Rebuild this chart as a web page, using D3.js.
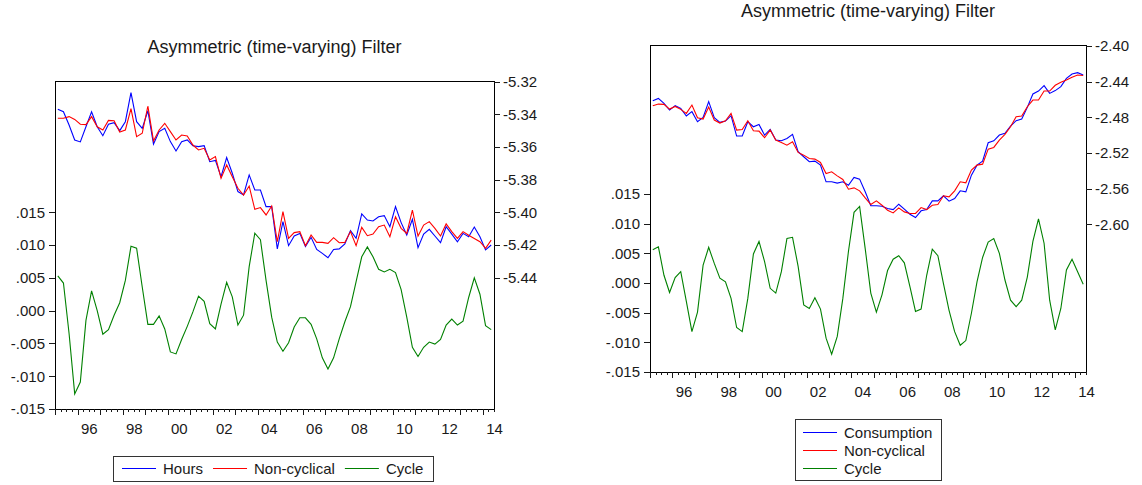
<!DOCTYPE html>
<html>
<head>
<meta charset="utf-8">
<script src="https://cdn.jsdelivr.net/npm/d3@7"></script>
<style>
  body { margin: 0; background: #fff; }
  svg text { font-family: "Liberation Sans", Arial, sans-serif; }
</style>
</head>
<body>
<div id="chart"></div>
<script>

// quarterly sample, 1995Q1 - 2014Q2 (78 obs)
var startYear = 1995;
var yearLabels = ["96", "98", "00", "02", "04", "06", "08", "10", "12", "14"];

var hoursSeries = [
  -5.3369, -5.3384, -5.3465, -5.3557, -5.3569, -5.3476, -5.3384, -5.3476, -5.3531, -5.3461,
  -5.3451, -5.3500, -5.3445, -5.3267, -5.3445, -5.3486, -5.3378, -5.3582, -5.3506, -5.3486,
  -5.3567, -5.3624, -5.3567, -5.3557, -5.3592, -5.3598, -5.3592, -5.3690, -5.3682, -5.3782,
  -5.3665, -5.3761, -5.3873, -5.3894, -5.3771, -5.3863, -5.3863, -5.3965, -5.3965, -5.4224,
  -5.4057, -5.4204, -5.4145, -5.4129, -5.4210, -5.4153, -5.4227, -5.4251, -5.4278, -5.4227,
  -5.4224, -5.4194, -5.4112, -5.4159, -5.4010, -5.4047, -5.4053, -5.4027, -5.4020, -5.4088,
  -5.3965, -5.4063, -5.4139, -5.4043, -5.4216, -5.4133, -5.4104, -5.4145, -5.4186, -5.4088,
  -5.4133, -5.4180, -5.4129, -5.4150, -5.4090, -5.4150, -5.4230, -5.4200
];
var hoursTrend = [
  -5.3424, -5.3424, -5.3414, -5.3431, -5.3461, -5.3463, -5.3414, -5.3476, -5.3496, -5.3437,
  -5.3439, -5.3508, -5.3496, -5.3365, -5.3537, -5.3516, -5.3349, -5.3563, -5.3496, -5.3455,
  -5.3506, -5.3557, -5.3527, -5.3533, -5.3588, -5.3618, -5.3608, -5.3680, -5.3659, -5.3792,
  -5.3710, -5.3782, -5.3853, -5.3894, -5.3839, -5.3982, -5.3971, -5.4016, -5.3961, -5.4180,
  -5.3996, -5.4159, -5.4124, -5.4118, -5.4204, -5.4139, -5.4184, -5.4184, -5.4190, -5.4155,
  -5.4186, -5.4184, -5.4118, -5.4204, -5.4092, -5.4143, -5.4133, -5.4088, -5.4078, -5.4149,
  -5.4027, -5.4098, -5.4129, -5.3986, -5.4145, -5.4078, -5.4057, -5.4098, -5.4145, -5.4071,
  -5.4118, -5.4159, -5.4118, -5.4140, -5.4160, -5.4180, -5.4220, -5.4170
];
var hoursCycle = [
  0.0053, 0.0042, -0.0035, -0.0127, -0.0109, -0.0015, 0.0030, 0.0000, -0.0036, -0.0029,
  -0.0007, 0.0012, 0.0046, 0.0098, 0.0095, 0.0036, -0.0021, -0.0021, -0.0008, -0.0028,
  -0.0063, -0.0066, -0.0044, -0.0024, -0.0002, 0.0022, 0.0014, -0.0020, -0.0028, 0.0010,
  0.0043, 0.0021, -0.0022, -0.0007, 0.0067, 0.0118, 0.0108, 0.0046, -0.0010, -0.0048,
  -0.0062, -0.0049, -0.0025, -0.0011, -0.0011, -0.0021, -0.0043, -0.0072, -0.0089, -0.0072,
  -0.0043, -0.0017, 0.0006, 0.0044, 0.0082, 0.0097, 0.0082, 0.0063, 0.0059, 0.0063,
  0.0058, 0.0032, -0.0010, -0.0056, -0.0070, -0.0056, -0.0048, -0.0051, -0.0044, -0.0022,
  -0.0013, -0.0022, -0.0016, 0.0020, 0.0050, 0.0025, -0.0023, -0.0029
];

var consSeries = [
  -2.4613, -2.4587, -2.4643, -2.4718, -2.4669, -2.4699, -2.4785, -2.4736, -2.4849, -2.4800,
  -2.4624, -2.4804, -2.4856, -2.4841, -2.4781, -2.5009, -2.5009, -2.4849, -2.4905, -2.4879,
  -2.4999, -2.4935, -2.5054, -2.5062, -2.5036, -2.4991, -2.5185, -2.5241, -2.5297, -2.5290,
  -2.5335, -2.5522, -2.5522, -2.5537, -2.5522, -2.5560, -2.5473, -2.5492, -2.5634, -2.5791,
  -2.5791, -2.5795, -2.5821, -2.5833, -2.5773, -2.5829, -2.5885, -2.5922, -2.5847, -2.5833,
  -2.5736, -2.5736, -2.5679, -2.5739, -2.5709, -2.5623, -2.5634, -2.5447, -2.5335, -2.5290,
  -2.5084, -2.5062, -2.4998, -2.4979, -2.4897, -2.4837, -2.4819, -2.4688, -2.4538, -2.4505,
  -2.4445, -2.4531, -2.4500, -2.4456, -2.4363, -2.4314, -2.4299, -2.4325
];
var consTrend = [
  -2.4669, -2.4651, -2.4654, -2.4707, -2.4677, -2.4710, -2.4755, -2.4662, -2.4804, -2.4819,
  -2.4684, -2.4830, -2.4864, -2.4838, -2.4755, -2.4942, -2.4935, -2.4838, -2.4950, -2.4954,
  -2.5028, -2.4942, -2.5054, -2.5081, -2.5111, -2.5073, -2.5193, -2.5223, -2.5260, -2.5268,
  -2.5305, -2.5429, -2.5410, -2.5455, -2.5496, -2.5605, -2.5590, -2.5623, -2.5702, -2.5777,
  -2.5735, -2.5784, -2.5840, -2.5870, -2.5814, -2.5859, -2.5877, -2.5877, -2.5810, -2.5833,
  -2.5784, -2.5777, -2.5679, -2.5691, -2.5623, -2.5522, -2.5533, -2.5391, -2.5335, -2.5324,
  -2.5156, -2.5137, -2.5055, -2.4991, -2.4905, -2.4793, -2.4785, -2.4681, -2.4606, -2.4606,
  -2.4505, -2.4505, -2.4440, -2.4407, -2.4381, -2.4351, -2.4325, -2.4330
];
var consCycle = [
  0.0056, 0.0061, 0.0013, -0.0016, 0.0009, 0.0019, -0.0031, -0.0082, -0.0049, 0.0030,
  0.0060, 0.0033, 0.0008, 0.0002, -0.0026, -0.0075, -0.0082, -0.0026, 0.0049, 0.0070,
  0.0036, -0.0009, -0.0017, 0.0019, 0.0075, 0.0077, 0.0028, -0.0037, -0.0043, -0.0025,
  -0.0044, -0.0093, -0.0120, -0.0090, -0.0026, 0.0053, 0.0119, 0.0129, 0.0058, -0.0017,
  -0.0049, -0.0020, 0.0021, 0.0040, 0.0046, 0.0034, -0.0006, -0.0048, -0.0044, 0.0013,
  0.0057, 0.0046, -0.0001, -0.0046, -0.0082, -0.0105, -0.0097, -0.0051, 0.0002, 0.0043,
  0.0069, 0.0075, 0.0050, 0.0005, -0.0029, -0.0040, -0.0029, 0.0010, 0.0070, 0.0108,
  0.0067, -0.0029, -0.0079, -0.0043, 0.0022, 0.0040, 0.0019, -0.0002
];

var cycleTicks = [-0.015, -0.010, -0.005, 0.000, 0.005, 0.010, 0.015];
var hoursTicks = [-5.44, -5.42, -5.40, -5.38, -5.36, -5.34, -5.32];
var consTicks = [-2.60, -2.56, -2.52, -2.48, -2.44, -2.40];

var legendColors = ["#0000ff", "#ff0000", "#008000"];

// plain hyphen minus like the original, not the unicode one
var locale = d3.formatLocale({decimal: ".", thousands: ",", grouping: [3], currency: ["", ""], minus: "-"});
var fmtCycle = function(d){ return locale.format(".3f")(d).replace("0.", "."); };
var fmtLevel = locale.format(".2f");

var svg = d3.select("#chart").append("svg")
    .attr("width", 1142)
    .attr("height", 485);

FilterPanel = function(_svg, _config){
    this.svg = _svg;
    this.config = _config;
    this.initVis();
}

FilterPanel.prototype.initVis = function(){

  var vis = this;
  var c = vis.config;

  vis.width = c.right - c.left;
  vis.height = c.bottom - c.top;

  vis.g = vis.svg.append("g")
      .attr("transform", "translate(" + c.left + "," + c.top + ")");

  var nObs = c.series[0].length;
  var endYear = startYear + nObs / 4;

  // x in years, each quarter drawn at the middle of its slot
  vis.x = d3.scaleLinear()
      .domain([startYear, endYear])
      .range([0, vis.width]);

  vis.yCycle = d3.scaleLinear()
      .domain(c.cycleDomain)
      .range([vis.height, 0]);

  vis.yLevel = d3.scaleLinear()
      .domain(c.levelDomain)
      .range([vis.height, 0]);

  var quarterTicks = d3.range(0, nObs + 1).map(function(i){ return startYear + i / 4; });
  var yearTicks = quarterTicks.filter(function(t){ return t % 1 === 0; });
  var labelYears = yearLabels.map(function(l){
      var y = +l < 50 ? 2000 + +l : 1900 + +l;
      return y + 0.5;
  });

  // frame
  vis.g.append("rect")
      .attr("width", vis.width)
      .attr("height", vis.height)
      .attr("fill", "none")
      .attr("stroke", "#000")
      .attr("shape-rendering", "crispEdges");

  // axes
  var styleAxis = function(sel){
    sel.attr("font-size", 15)
       .attr("font-family", "'Liberation Sans', Arial, sans-serif")
       .attr("color", "#1a1a1a")
       .attr("shape-rendering", "crispEdges");
    sel.select(".domain").remove();
  }

  vis.g.append("g")
      .call(d3.axisLeft(vis.yCycle).tickValues(cycleTicks).tickFormat(fmtCycle).tickSize(6).tickPadding(4))
      .call(styleAxis);

  vis.g.append("g")
      .attr("transform", "translate(" + vis.width + ",0)")
      .call(d3.axisRight(vis.yLevel).tickValues(c.levelTicks).tickFormat(fmtLevel).tickSize(6).tickPadding(3))
      .call(styleAxis);

  vis.g.append("g")
      .attr("transform", "translate(0," + vis.height + ")")
      .call(d3.axisBottom(vis.x).tickValues(quarterTicks).tickFormat("").tickSize(3))
      .call(styleAxis);

  vis.g.append("g")
      .attr("transform", "translate(0," + vis.height + ")")
      .call(d3.axisBottom(vis.x).tickValues(yearTicks).tickFormat("").tickSize(6))
      .call(styleAxis);

  vis.g.append("g")
      .attr("transform", "translate(0," + vis.height + ")")
      .call(d3.axisBottom(vis.x).tickValues(labelYears)
            .tickFormat(function(d, i){ return yearLabels[i]; }).tickSize(0).tickPadding(14))
      .call(styleAxis);

  // series: level + trend on right scale, cycle on left scale
  var scales = [vis.yLevel, vis.yLevel, vis.yCycle];
  c.series.forEach(function(s, k){
    var line = d3.line()
        .x(function(d, i){ return vis.x(startYear + (i + 0.5) / 4); })
        .y(function(d){ return scales[k](d); });

    vis.g.append("path")
        .datum(s)
        .attr("d", line)
        .attr("fill", "none")
        .attr("stroke", legendColors[k])
        .attr("stroke-width", 1.1);
  })

  // title
  vis.svg.append("text")
      .attr("x", (c.left + c.right) / 2)
      .attr("y", c.top - 28)
      .attr("text-anchor", "middle")
      .attr("font-size", 18)
      .attr("fill", "#1a1a1a")
      .text(c.title);

  vis.drawLegend();
}

FilterPanel.prototype.drawLegend = function(){

  var vis = this;
  var c = vis.config;
  var lg = c.legend;

  var box = vis.svg.append("rect")
      .attr("fill", "#fff")
      .attr("stroke", "#333")
      .attr("shape-rendering", "crispEdges");

  var items = vis.svg.append("g");
  var xPos = lg.x + 9;

  c.names.forEach(function(name, k){
    var rowY = lg.horizontal ? lg.y + lg.height / 2 : lg.y + 13.5 + k * 18;
    var x0 = lg.horizontal ? xPos : lg.x + 8;

    items.append("line")
        .attr("x1", x0).attr("x2", x0 + 34)
        .attr("y1", rowY).attr("y2", rowY)
        .attr("stroke", legendColors[k])
        .attr("stroke-width", 1.1);

    var t = items.append("text")
        .attr("x", x0 + 41)
        .attr("y", rowY)
        .attr("dy", "0.35em")
        .attr("font-size", 15)
        .attr("fill", "#1a1a1a")
        .text(name);

    xPos = x0 + 41 + t.node().getComputedTextLength() + 10;
  })

  box.attr("x", lg.x + 0.5)
     .attr("y", lg.y + 0.5)
     .attr("width", lg.width)
     .attr("height", lg.height);
}

new FilterPanel(svg, {
    title: "Asymmetric (time-varying) Filter",
    left: 55, right: 494, top: 81, bottom: 409,
    series: [hoursSeries, hoursTrend, hoursCycle],
    names: ["Hours", "Non-cyclical", "Cycle"],
    cycleDomain: [-0.015, 0.035],
    levelDomain: [-5.5204, -5.3196],
    levelTicks: hoursTicks,
    legend: {x: 113, y: 456, width: 320, height: 25, horizontal: true}
});

new FilterPanel(svg, {
    title: "Asymmetric (time-varying) Filter",
    left: 650, right: 1086, top: 45, bottom: 372,
    series: [consSeries, consTrend, consCycle],
    names: ["Consumption", "Non-cyclical", "Cycle"],
    cycleDomain: [-0.015, 0.0401],
    levelDomain: [-2.7653, -2.3989],
    levelTicks: consTicks,
    legend: {x: 795, y: 419, width: 146, height: 61, horizontal: false}
});

</script>
</body>
</html>
